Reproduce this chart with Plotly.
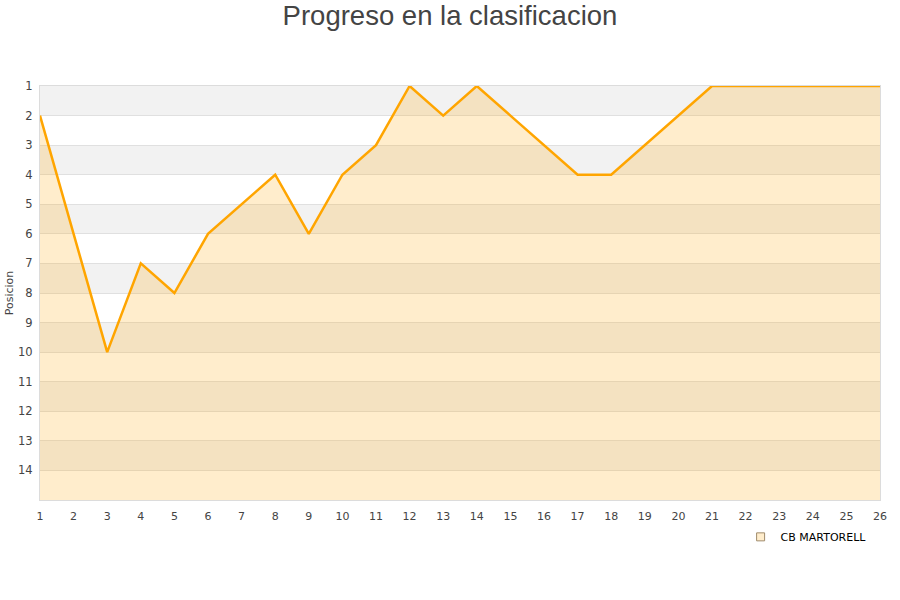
import plotly.graph_objects as go

jornadas = list(range(1, 27))
posiciones = [2, 6, 10, 7, 8, 6, 5, 4, 6, 4, 3, 1, 2, 1, 2, 3, 4, 4, 3, 2, 1, 1, 1, 1, 1, 1]
team = "CB MARTORELL"
y_ticks = list(range(1, 15))
y_bottom = 15

fig = go.Figure()

# alternating background bands
for k in range(1, y_bottom, 2):
    fig.add_hrect(y0=k, y1=k + 1, fillcolor="#f2f2f2", line_width=0, layer="below")

fig.add_trace(go.Scatter(x=jornadas, y=[y_bottom] * len(jornadas), mode="lines",
                         line=dict(width=0), showlegend=False, hoverinfo="skip"))
fig.add_trace(go.Scatter(x=jornadas, y=posiciones, mode="lines", fill="tonexty",
                         fillcolor="rgba(255,165,0,0.2)",
                         line=dict(color="#FFA500", width=2.5), showlegend=False, name=team))
fig.add_trace(go.Scatter(x=[None], y=[None], mode="markers", name=team,
                         marker=dict(symbol="square", size=8, color="#FFEDCC",
                                     line=dict(color="#a08c6c", width=1))))

fig.update_layout(
    width=900, height=600,
    margin=dict(l=40, r=20, t=86, b=100, autoexpand=False),
    paper_bgcolor="white", plot_bgcolor="white",
    font=dict(family="DejaVu Sans", size=11, color="#444"),
    title=dict(text="Progreso en la clasificacion", x=0.5, xref="container", xanchor="center",
               y=1 - 15 / 600, yref="container", yanchor="middle",
               font=dict(family="Liberation Sans", size=27.5, color="#444")),
    showlegend=True,
    legend=dict(x=0.99, xanchor="right", y=-0.089, yanchor="middle", bgcolor="rgba(0,0,0,0)",
                font=dict(family="DejaVu Sans", size=11, color="#000")),
)
fig.update_xaxes(range=[1, 26], tickmode="array", tickvals=jornadas, showgrid=False,
                 showline=True, linecolor="#dcdcdc", mirror=True, zeroline=False,
                 automargin=False, ticks="", ticklabelstandoff=6,
                 tickfont=dict(size=11, color="#444"))
fig.update_yaxes(range=[y_bottom, 1], tickmode="array", tickvals=y_ticks, showgrid=True,
                 gridcolor="#e0e0e0", showline=True, linecolor="#dcdcdc", mirror=True,
                 zeroline=False, automargin=False, ticks="", ticklabelstandoff=4,
                 tickfont=dict(size=11.5, color="#444"),
                 title=dict(text="Posicion", font=dict(size=11, color="#444"), standoff=2))

fig.write_html("out.html", config={"displayModeBar": False},
               post_script="document.body.style.margin='0';")
